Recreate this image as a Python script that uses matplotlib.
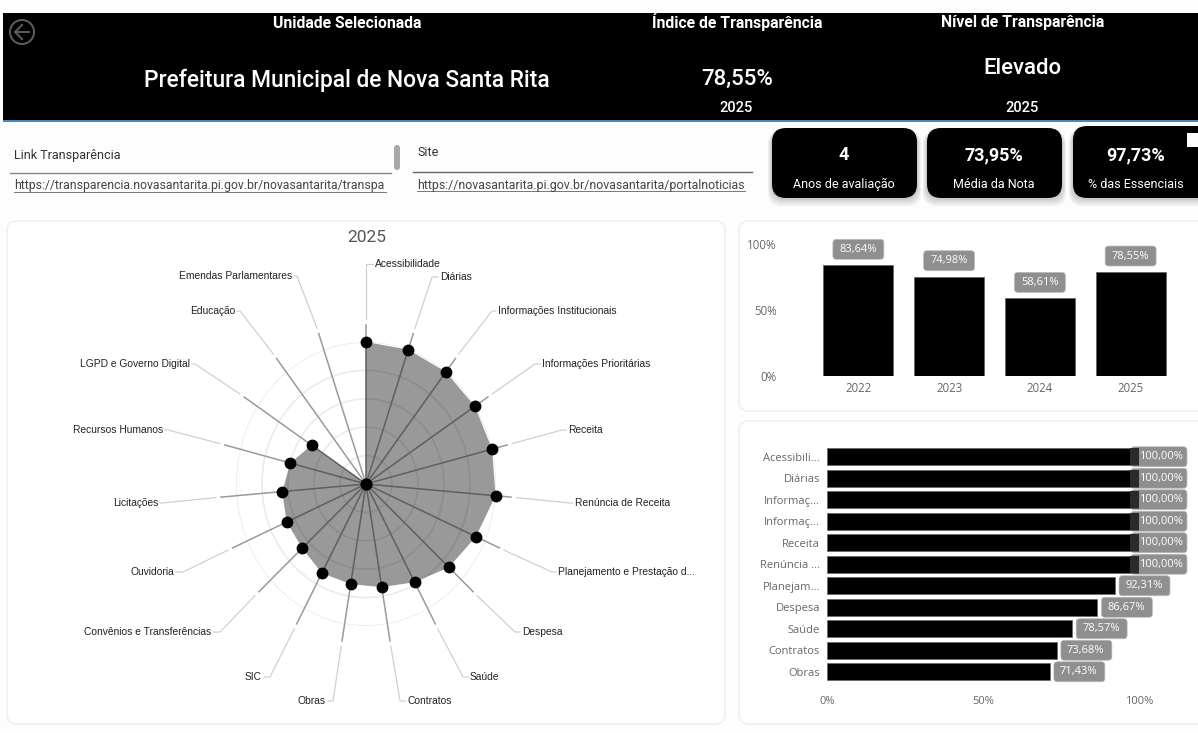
import numpy as np
import matplotlib
matplotlib.use("Agg")
import matplotlib.pyplot as plt
from matplotlib.patches import FancyBboxPatch, Rectangle, Circle

# data
categorias = ["Acessibilidade", "Diárias", "Informações Institucionais", "Informações Prioritárias",
              "Receita", "Renúncia de Receita", "Planejamento e Prestação d...", "Despesa", "Saúde",
              "Contratos", "Obras", "SIC", "Convênios e Transferências", "Ouvidoria", "Licitações",
              "Recursos Humanos", "LGPD e Governo Digital", "Educação", "Emendas Parlamentares"]
notas = [100, 100, 100, 100, 100, 100, 92.31, 86.67, 78.57, 73.68, 71.43,
         71.43, 66.67, 66.67, 64.71, 60, 50, 0, 0]
anos = ["2022", "2023", "2024", "2025"]
nota_ano = [83.64, 74.98, 58.61, 78.55]
rotulo_ano = ["83,64%", "74,98%", "58,61%", "78,55%"]
cat_curtas = ["Acessibili...", "Diárias", "Informaç...", "Informaç...", "Receita", "Renúncia ...",
              "Planejam...", "Despesa", "Saúde", "Contratos", "Obras"]
rotulo_cat = ["100,00%"] * 6 + ["92,31%", "86,67%", "78,57%", "73,68%", "71,43%"]

# where the radar labels sit (pixels): elbow x, elbow y, text x
cotovelos = [(366, 264, 375), (432, 277, 440), (492, 311, 498), (535, 364, 542), (562, 430, 568),
             (570, 503, 575), (552, 572, 558), (515, 632, 522), (463, 677, 470), (400, 701, 407),
             (333, 701, 326), (270, 677, 262), (220, 632, 211), (183, 572, 174), (162, 503, 158),
             (168, 430, 163), (195, 364, 190), (240, 311, 235), (297, 276, 292)]

W, H = 1198, 733
DIN = ["Roboto", "DejaVu Sans"]
UI = ["Open Sans", "DejaVu Sans"]
ARIAL = ["Liberation Sans", "DejaVu Sans"]
CINZA = "#8f8f8f"

fig = plt.figure(figsize=(W / 100, H / 100), dpi=100, facecolor="#fdfdfd")


def eixo_px(x0, y0, x1, y1, **kw):
    return fig.add_axes([x0 / W, 1 - y1 / H, (x1 - x0) / W, (y1 - y0) / H], **kw)


# background layer in pixel coordinates
bg = fig.add_axes([0, 0, 1, 1], zorder=0)
bg.set_xlim(0, W)
bg.set_ylim(H, 0)
bg.axis("off")


def caixa(x0, y0, x1, y1, raio, **kw):
    p = FancyBboxPatch((x0, y0), x1 - x0, y1 - y0, boxstyle=f"round,pad=0,rounding_size={raio}", **kw)
    bg.add_patch(p)
    return p


def txt(x, y, s, size, color="white", fam=DIN, ha="center", **kw):
    return bg.text(x, y, s, fontsize=size, color=color, family=fam, ha=ha, va="center", **kw)


# header
bg.add_patch(Rectangle((3, 13), W, 107, fc="black", ec="none"))
bg.add_patch(Rectangle((3, 120), W, 2, fc="#4a86b8", ec="none"))
bg.add_patch(Circle((22, 32), 12, fc="none", ec="#5a5a5a", lw=1.5))
bg.plot([15, 29], [32, 32], color="#5a5a5a", lw=1.5)
bg.plot([22, 15, 22], [25, 32, 39], color="#5a5a5a", lw=1.5)
txt(347, 23, "Unidade Selecionada", 11.3, weight="bold")
txt(737, 22, "Índice de Transparência", 11.3, weight="bold")
txt(1023, 22, "Nível de Transparência", 11.3, weight="bold")
txt(347, 80, "Prefeitura Municipal de Nova Santa Rita", 16.4, weight="medium")
txt(737, 79, "78,55%", 16, weight="medium")
txt(1022, 69, "Elevado", 16, weight="medium")
txt(736, 108, "2025", 10.5, weight="medium")
txt(1022, 108, "2025", 10.5, weight="medium")

# links
txt(14, 155, "Link Transparência", 9, color="#333333", ha="left")
txt(14, 186, "https://transparencia.novasantarita.pi.gov.br/novasantarita/transpa", 8.85, color="#444444", ha="left")
bg.plot([14, 386], [192, 192], color="#777777", lw=0.7)
bg.plot([10, 391], [173, 173], color="#888888", lw=1)
caixa(394, 145, 400, 170, 3, fc="#a8a8a8", ec="none")
txt(417, 153, "Site", 9, color="#333333", ha="left")
txt(417, 185, "https://novasantarita.pi.gov.br/novasantarita/portalnoticias", 8.9, color="#444444", ha="left")
bg.plot([417, 745], [191, 191], color="#777777", lw=0.7)
bg.plot([413, 752], [172, 172], color="#666666", lw=1)

# kpi cards
kpis = [(772, 917, 128, "4", "Anos de avaliação"), (927, 1062, 128, "73,95%", "Média da Nota"),
        (1073, 1215, 126, "97,73%", "% das Essenciais")]
for x0, x1, y0, val, nome in kpis:
    for i in range(4, 0, -1):
        caixa(x0 - i, y0 + 3, x1 + i, 198 + 2 * i, 14, fc="black", ec="none", alpha=0.05)
    caixa(x0, y0, x1, 198, 14, fc="black", ec="none")
    meio = (x0 + min(x1, 1200)) / 2 - 1
    txt(meio, 155, val, 13, weight="bold")
    txt(meio, 184, nome, 9)
bg.add_patch(Rectangle((1187, 133), 12, 14, fc="white", ec="none"))

# panels
for x0, y0, x1, y1 in [(7, 221, 725, 724), (739, 221, 1215, 411), (739, 421, 1215, 724)]:
    caixa(x0, y0, x1, y1, 10, fc="white", ec="#f0f0f0", lw=1.2)

# radar
ax = eixo_px(236, 342, 496, 626, projection="polar", zorder=2)
ax.set_aspect("auto")
ax.set_theta_zero_location("N")
ax.set_theta_direction(-1)
ax.patch.set_alpha(0)
ax.spines["polar"].set_visible(False)
ang = np.arange(len(notas)) * 2 * np.pi / len(notas)
ax.set_rlim(0, 100)
ax.set_rgrids([20, 40, 60, 80, 100], labels=[])
ax.set_thetagrids([])
ax.grid(True, color="#ebebeb", lw=1.2)
ax.fill(ang, notas, color="black", alpha=0.4, lw=0, zorder=2)
for a, n in zip(ang, notas):
    ax.plot([a, a], [0, n], color="#5f5f5f", lw=1.1, zorder=3, clip_on=False)
    ax.plot([a, a], [n, 112], color="#9a9a9a", lw=1.1, zorder=3, clip_on=False)
ax.plot(ang, notas, "o", color="black", ms=7.5, ls="none", zorder=4, clip_on=False)

# leaders and labels of the radar
para_bg = ax.transData + bg.transData.inverted()
for a, nome, (ex, ey, tx) in zip(ang, categorias, cotovelos):
    xi, yi = para_bg.transform((a, 116))
    direita = tx > ex
    bg.plot([xi, ex, tx - 2 if direita else tx + 2], [yi, ey, ey], color="#d0d0d0", lw=0.9, zorder=1)
    txt(tx, ey, nome, 7.4, color="#222222", fam=ARIAL, ha="left" if direita else "right", zorder=3)
txt(367, 237, "2025", 12.5, color="#555555")

# bars per year
ax2 = eixo_px(813, 243.7, 1176, 375.7, zorder=2)
ax2.patch.set_alpha(0)
ax2.bar(range(4), nota_ano, width=0.77, color="black", edgecolor="#666666", lw=0.6)
ax2.set_xlim(-0.5, 3.5)
ax2.set_ylim(0, 100)
ax2.set_xticks(range(4), anos)
ax2.set_yticks([0, 50, 100], ["0%", "50%", "100%"])
ax2.tick_params(length=0, labelsize=8.3, labelcolor="#666666", pad=4.5)
ax2.tick_params(axis="y", pad=26)
for l in ax2.get_xticklabels() + ax2.get_yticklabels():
    l.set_family(UI)
for s in ax2.spines.values():
    s.set_visible(False)
para_bg2 = ax2.transData + bg.transData.inverted()
for i, (v, r) in enumerate(zip(nota_ano, rotulo_ano)):
    xc, yt = para_bg2.transform((i, v))
    caixa(xc - 25.5, yt - 26, xc + 25.5, yt - 6, 3.5, fc=CINZA, ec="#bdbdbd", lw=0.5)
    ax2.annotate(r, (i, v), xytext=(0, 16), textcoords="offset pixels", ha="center", va="center",
                 fontsize=8, color="white", family=UI, annotation_clip=False)

# bars per category
ax3 = eixo_px(827, 446, 1139, 682.5, zorder=2)
ax3.patch.set_alpha(0)
y = np.arange(len(cat_curtas))
vals = notas[:len(cat_curtas)]
ax3.barh(y, vals, height=0.78, color="black", edgecolor="#666666", lw=0.5, zorder=2)
ax3.barh(y[:6], [3] * 6, left=97, height=0.78, color="#2a2a2a", zorder=3)
ax3.set_ylim(len(cat_curtas) - 0.5, -0.5)
ax3.set_xlim(0, 100)
ax3.set_yticks(y, cat_curtas)
ax3.set_xticks([0, 50, 100], ["0%", "50%", "100%"])
ax3.tick_params(length=0, labelsize=8, labelcolor="#666666")
ax3.tick_params(axis="y", pad=5)
ax3.tick_params(axis="x", pad=10)
for l in ax3.get_xticklabels() + ax3.get_yticklabels():
    l.set_family(UI)
for s in ax3.spines.values():
    s.set_visible(False)
para_bg3 = ax3.transData + bg.transData.inverted()
for i, (v, r) in enumerate(zip(vals, rotulo_cat)):
    xf, yc = para_bg3.transform((v, i))
    if v >= 100:
        caixa(xf - 8, yc - 10, xf + 48, yc + 10, 3.5, fc=CINZA, ec="#bdbdbd", lw=0.5)
        dx = 0
    else:
        caixa(xf + 4, yc - 10, xf + 55, yc + 10, 3.5, fc=CINZA, ec="#bdbdbd", lw=0.5)
        dx = 10
    ax3.annotate(r, (v, i), xytext=(dx, 0), textcoords="offset pixels", ha="left", va="center",
                 fontsize=8, color="white", family=UI, zorder=4, annotation_clip=False)

fig.savefig("out.png", dpi=100)
